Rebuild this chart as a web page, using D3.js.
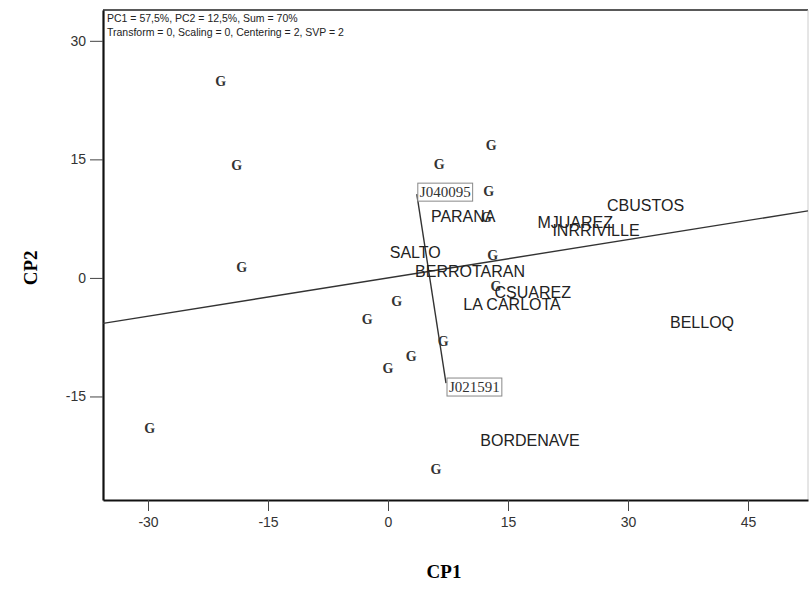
<!DOCTYPE html>
<html>
<head>
<meta charset="utf-8">
<script src="https://cdn.jsdelivr.net/npm/d3@7"></script>
<style>
  body { margin: 0; background: #fff; }
  svg { display: block; }
</style>
</head>
<body>
<svg width="811" height="591"></svg>
<script>
// genotype scores (plotted as "G")
const genoX = [-20.9, -18.9, -18.3, -29.8, 6.4, 12.9, 12.6, 12.3, 13.1, 13.5, 1.1, -2.6, 2.9, 0.0, 6.9, 6.0];
const genoY = [24.9, 14.2, 1.3, -19.1, 14.3, 16.8, 10.9, 7.6, 2.9, -1.1, -3.0, -5.3, -10.0, -11.4, -8.1, -24.2];

// the two genotypes that get a name
const markedNames = ["J040095", "J021591"];
const markedX = [3.6, 7.25];
const markedY = [10.6, -13.3];

// environment scores
const envNames = ["CBUSTOS", "MJUAREZ", "INRRIVILLE", "PARANA", "SALTO", "BERROTARAN", "CSUAREZ", "LA CARLOTA", "BELLOQ", "BORDENAVE"];
const envX = [32.2, 23.4, 26.0, 9.4, 3.4, 10.25, 18.1, 15.5, 39.25, 17.75];
const envY = [9.2, 7.0, 6.0, 7.8, 3.2, 0.8, -1.8, -3.4, -5.7, -20.6];

// average environment axis slope
const aeaSlope = 0.1616;

const xTicks = [-30, -15, 0, 15, 30, 45];
const yTicks = [-15, 0, 15, 30];

const infoLines = [
  "PC1 = 57,5%, PC2 = 12,5%, Sum = 70%",
  "Transform = 0, Scaling = 0, Centering = 2, SVP = 2"
];

let svg = d3.select("svg");
let margin = { top: 10, right: 3, bottom: 91, left: 103 };
let width = +svg.attr("width") - margin.left - margin.right;
let height = +svg.attr("height") - margin.top - margin.bottom;

let x = d3.scaleLinear().domain([-35.625, 52.5]).range([0, width]);
let y = d3.scaleLinear().domain([-28.1, 33.9]).range([height, 0]);

let g = svg.append("g").attr("transform", `translate(${margin.left}, ${margin.top})`);

// frame (top and right thin)
g.append("line").attr("x1", 0).attr("x2", width).attr("y1", 0).attr("y2", 0)
  .attr("stroke", "#222").attr("stroke-width", 1.5);
g.append("line").attr("x1", width).attr("x2", width).attr("y1", 0).attr("y2", height)
  .attr("stroke", "#ccc").attr("stroke-width", 1);

// axes, plain hyphen for negatives
let fmt = d => String(d);
let xAxis = g.append("g")
  .attr("transform", `translate(0, ${height})`)
  .call(d3.axisBottom(x).tickValues(xTicks).tickFormat(fmt).tickSize(11).tickPadding(6).tickSizeOuter(0));
let yAxis = g.append("g")
  .call(d3.axisLeft(y).tickValues(yTicks).tickFormat(fmt).tickSize(13).tickPadding(4).tickSizeOuter(0));

[xAxis, yAxis].forEach(ax => {
  ax.select(".domain").attr("stroke", "#111").attr("stroke-width", 2.2);
  ax.selectAll(".tick line").attr("stroke", "#444").attr("stroke-width", 1);
  ax.selectAll(".tick text")
    .attr("font-family", "Arial, 'Liberation Sans', sans-serif")
    .attr("font-size", "14px")
    .attr("fill", "#333");
});

// info text
g.selectAll(".info")
  .data(infoLines)
  .enter().append("text")
  .attr("x", 4)
  .attr("y", (d, i) => 12 + i * 14)
  .attr("font-family", "Arial, 'Liberation Sans', sans-serif")
  .attr("font-size", "10.5px")
  .attr("fill", "#222")
  .text(d => d);

let plot = g.append("g");
plot.append("clipPath").attr("id", "clip")
  .append("rect").attr("width", width).attr("height", height);

// average environment axis through origin
let xd = x.domain();
plot.append("line")
  .attr("clip-path", "url(#clip)")
  .attr("x1", x(xd[0])).attr("y1", y(xd[0] * aeaSlope))
  .attr("x2", x(xd[1])).attr("y2", y(xd[1] * aeaSlope))
  .attr("stroke", "#333").attr("stroke-width", 1.4);

// line joining the two marked genotypes
plot.append("line")
  .attr("x1", x(markedX[0])).attr("y1", y(markedY[0]))
  .attr("x2", x(markedX[1])).attr("y2", y(markedY[1]))
  .attr("stroke", "#333").attr("stroke-width", 1.4);

// genotype markers
plot.selectAll(".geno")
  .data(genoX.map((v, i) => [v, genoY[i]]))
  .enter().append("text")
  .attr("x", d => x(d[0]))
  .attr("y", d => y(d[1]))
  .attr("text-anchor", "middle")
  .attr("dominant-baseline", "central")
  .attr("font-family", "'Liberation Serif', 'Times New Roman', serif")
  .attr("font-size", "14px")
  .attr("font-weight", "bold")
  .attr("fill", "#333")
  .text("G");

// environment labels
plot.selectAll(".env")
  .data(envNames)
  .enter().append("text")
  .attr("x", (d, i) => x(envX[i]))
  .attr("y", (d, i) => y(envY[i]))
  .attr("text-anchor", "middle")
  .attr("dominant-baseline", "central")
  .attr("font-family", "Arial, 'Liberation Sans', sans-serif")
  .attr("font-size", "16px")
  .attr("fill", "#222")
  .text(d => d);

// boxed genotype names
markedNames.forEach((name, i) => {
  let lab = plot.append("g")
    .attr("transform", `translate(${x(markedX[i])}, ${y(markedY[i])})`);
  let t = lab.append("text")
    .attr("x", 3)
    .attr("y", i === 0 ? -2 : 4)
    .attr("dominant-baseline", "central")
    .attr("font-family", "'Liberation Serif', 'Times New Roman', serif")
    .attr("font-size", "15px")
    .attr("fill", "#333")
    .text(name);
  let bb = t.node().getBBox();
  lab.insert("rect", "text")
    .attr("x", bb.x - 2).attr("y", bb.y - 1)
    .attr("width", bb.width + 4).attr("height", bb.height + 2)
    .attr("fill", "#fff").attr("stroke", "#888").attr("stroke-width", 1);
});

// axis titles
svg.append("text")
  .attr("x", margin.left + x(0) + 56)
  .attr("y", 578)
  .attr("text-anchor", "middle")
  .attr("font-family", "'Liberation Serif', 'Times New Roman', serif")
  .attr("font-size", "19px")
  .attr("font-weight", "bold")
  .text("CP1");

svg.append("text")
  .attr("transform", `translate(37, ${margin.top + y(0) - 10}) rotate(-90)`)
  .attr("text-anchor", "middle")
  .attr("font-family", "'Liberation Serif', 'Times New Roman', serif")
  .attr("font-size", "19px")
  .attr("font-weight", "bold")
  .text("CP2");
</script>
</body>
</html>
